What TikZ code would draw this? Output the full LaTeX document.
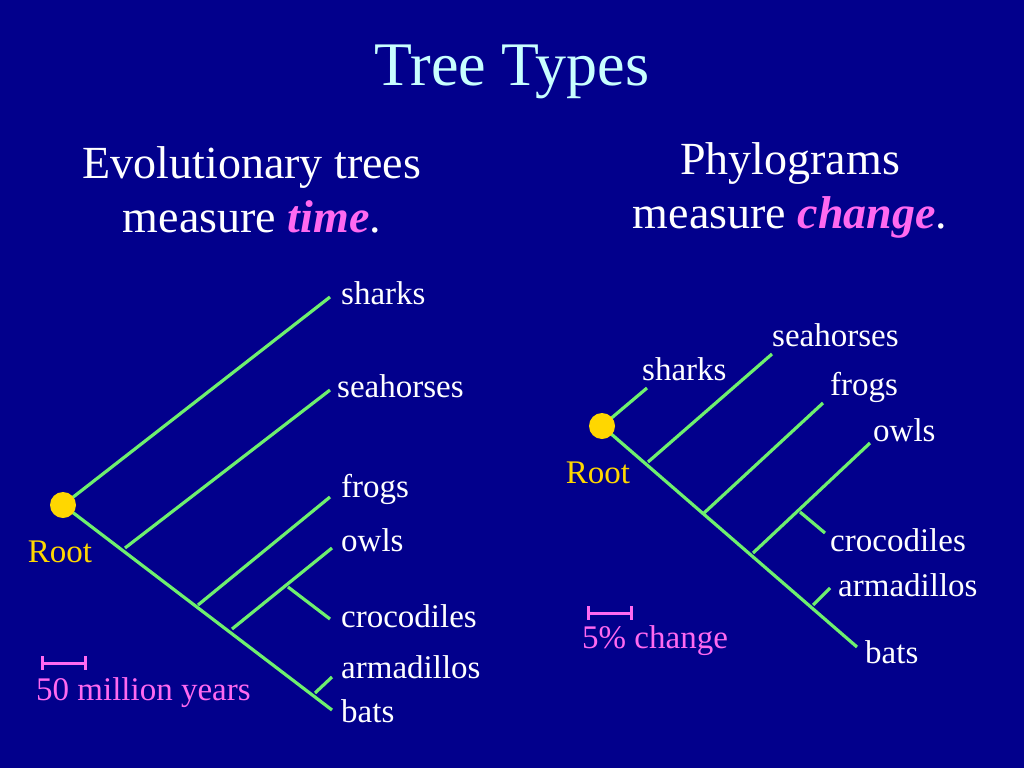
\documentclass[tikz,border=0pt]{standalone}
\usepackage{fontspec}
\setmainfont{Liberation Serif}
\begin{document}
\begin{tikzpicture}[x=1pt,y=-1pt,
  br/.style={draw=lgreen,line width=3.2pt},
  lab/.style={text=white,anchor=west,font=\fontsize{33}{36}\selectfont,inner sep=0pt},
  head/.style={text=white,align=center,font=\fontsize{46}{54}\selectfont},
  bar/.style={draw=mag,line width=3pt}]
\definecolor{bg}{RGB}{2,0,140}
\definecolor{lgreen}{RGB}{110,240,110}
\definecolor{mag}{RGB}{255,105,240}
\definecolor{ttl}{RGB}{200,255,255}
\definecolor{gold}{RGB}{255,215,0}
\fill[bg] (0,0) rectangle (1024,768);
\useasboundingbox (0,0) rectangle (1024,768);
\node[text=ttl,font=\fontsize{62}{68}\selectfont] (title) at (512,72) {Tree Types};
\node[head] (h1) at (252,190) {Evolutionary trees\\measure \textcolor{mag}{\textbf{\textit{time}}}.};
\node[head] (h2) at (790,190) {Phylograms\\measure \textcolor{mag}{\textbf{\textit{change}}}.};
% left tree
\coordinate (r1) at (63,505);
\coordinate (a1) at (125,548);\coordinate (b1) at (198,605);\coordinate (c1) at (232,629);
\coordinate (d1) at (288,587);\coordinate (e1) at (315,693);
\coordinate (t1) at (330,297);\coordinate (t2) at (330,390);\coordinate (t3) at (330,497);
\coordinate (t4) at (332,548);\coordinate (t5) at (330,619);\coordinate (t6) at (332,677);\coordinate (t7) at (332,710);
\draw[br] (r1)--(t1); \draw[br] (r1)--(t7);
\draw[br] (a1)--(t2); \draw[br] (b1)--(t3); \draw[br] (c1)--(t4);
\draw[br] (d1)--(t5); \draw[br] (e1)--(t6);
\fill[gold] (r1) circle (13);
\node[text=gold,font=\fontsize{33}{36}\selectfont] (root1) at (60,552) {Root};
\node[lab] (l1) at (341,293) {sharks};
\node[lab] (l2) at (337,386) {seahorses};
\node[lab] (l3) at (341,489) {frogs};
\node[lab] (l4) at (341,540) {owls};
\node[lab] (l5) at (341,616) {crocodiles};
\node[lab] (l6) at (341,667) {armadillos};
\node[lab] (l7) at (341,711) {bats};
\draw[bar] (42,656)--(42,670) (42,663)--(85,663) (85,656)--(85,670);
\node[text=mag,font=\fontsize{33}{36}\selectfont,anchor=west,inner sep=0pt] (s1) at (36,693) {50 million years};
% right tree
\coordinate (r2) at (602,426);
\coordinate (ra) at (648,462);\coordinate (rb) at (704,513);\coordinate (rc) at (753,553);
\coordinate (rd) at (800,512);\coordinate (re) at (813,605);
\coordinate (u1) at (647,388);\coordinate (u2) at (772,354);\coordinate (u3) at (823,403);
\coordinate (u4) at (870,443);\coordinate (u5) at (825,533);\coordinate (u6) at (830,588);\coordinate (u7) at (857,647);
\draw[br] (r2)--(u1); \draw[br] (r2)--(u7);
\draw[br] (ra)--(u2); \draw[br] (rb)--(u3); \draw[br] (rc)--(u4);
\draw[br] (rd)--(u5); \draw[br] (re)--(u6);
\fill[gold] (r2) circle (13);
\node[text=gold,font=\fontsize{33}{36}\selectfont] (root2) at (598,473) {Root};
\node[lab] (m1) at (642,369) {sharks};
\node[lab] (m2) at (772,335) {seahorses};
\node[lab] (m3) at (830,387) {frogs};
\node[lab] (m4) at (873,430) {owls};
\node[lab] (m5) at (830,540) {crocodiles};
\node[lab] (m6) at (838,585) {armadillos};
\node[lab] (m7) at (865,652) {bats};
\draw[bar] (588,606)--(588,620) (588,613)--(631,613) (631,606)--(631,620);
\node[text=mag,font=\fontsize{33}{36}\selectfont,anchor=west,inner sep=0pt] (s2) at (582,641) {5\% change};
\end{tikzpicture}
\end{document}
